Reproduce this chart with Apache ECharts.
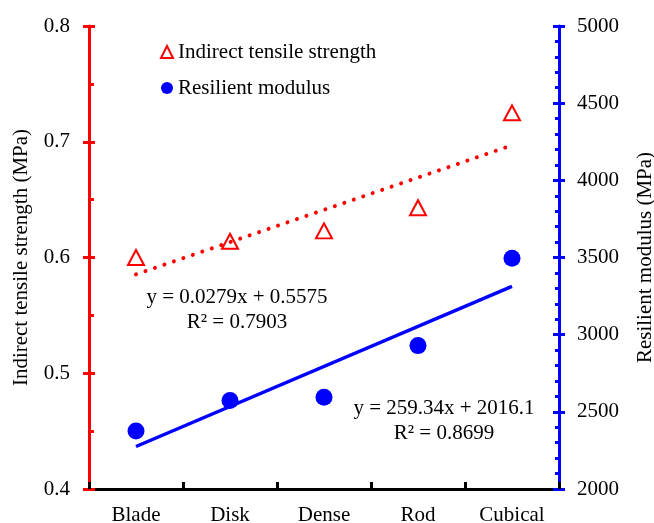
<!DOCTYPE html>
<html>
<head>
<meta charset="utf-8">
<script src="https://cdn.jsdelivr.net/npm/echarts@6/dist/echarts.min.js"></script>
<style>
  html, body { margin: 0; padding: 0; background: #fff; }
  #chart { width: 654px; height: 523px; }
</style>
</head>
<body>
<div id="chart"></div>
<script>
// Particle shape categories
var categories = ['Blade', 'Disk', 'Dense', 'Rod', 'Cubical'];
// Indirect tensile strength (MPa)
var itsValues = [0.600, 0.614, 0.623, 0.643, 0.725];
// Resilient modulus (MPa)
var rmValues = [2376, 2573, 2594, 2929, 3495];
// Linear fits: [slope, intercept, R²]
var itsFit = [0.0279, 0.5575, 0.7903];
var rmFit = [259.34, 2016.1, 0.8699];
// Axis tick ranges
var leftTicks = [0.4, 0.5, 0.6, 0.7, 0.8];
var rightTicks = [2000, 2500, 3000, 3500, 4000, 4500, 5000];

var FONT = 'Liberation Serif';
var RED = '#ff0000';
var BLUE = '#0000ff';

// Fit line endpoints at x = 1 and x = n (category indices 0 and n-1)
function fitLine(fit) {
  var n = categories.length;
  return [[0, fit[0] * 1 + fit[1]], [n - 1, fit[0] * n + fit[1]]];
}

var chart = echarts.init(document.getElementById('chart'), null, { renderer: 'canvas' });

var grid = { left: 89, right: 95, top: 26, bottom: 34, containLabel: false, outerBoundsMode: 'none' };

var baseLeft = {
  type: 'value', position: 'left',
  min: leftTicks[0], max: leftTicks[leftTicks.length - 1], interval: 0.1,
  splitLine: { show: false }
};
var baseRight = {
  type: 'value', position: 'right',
  min: rightTicks[0], max: rightTicks[rightTicks.length - 1], interval: 500,
  splitLine: { show: false }
};

var option = {
  animation: false,
  backgroundColor: '#ffffff',
  grid: grid,
  legend: {
    orient: 'vertical',
    left: 155, top: 36,
    itemWidth: 12, itemHeight: 12, itemGap: 14,
    textStyle: { fontFamily: FONT, fontSize: 21, color: '#000', lineHeight: 22 },
    data: [
      { name: 'Indirect tensile strength', icon: 'triangle',
        itemStyle: { color: 'rgba(0,0,0,0)', borderColor: RED, borderWidth: 2, opacity: 1 } },
      { name: 'Resilient modulus', icon: 'circle',
        itemStyle: { color: BLUE, borderWidth: 0, opacity: 1 } }
    ]
  },
  xAxis: {
    type: 'category', data: categories, boundaryGap: true,
    axisLine: { lineStyle: { color: '#000', width: 3 } },
    axisTick: { show: true, inside: true, length: 7, lineStyle: { color: '#000', width: 3 } },
    axisLabel: { fontFamily: FONT, fontSize: 21, color: '#000', margin: 16 },
    splitLine: { show: false }
  },
  yAxis: [
    Object.assign({}, baseLeft, {
      name: 'Indirect tensile strength (MPa)', nameLocation: 'middle', nameGap: 57,
      nameTextStyle: { fontFamily: FONT, fontSize: 21, color: '#000' },
      axisLine: { show: true, lineStyle: { color: RED, width: 3 } },
      axisTick: { show: true, inside: true, length: 6, lineStyle: { color: RED, width: 3 } },
      minorTick: { show: true, splitNumber: 2, length: 5, lineStyle: { color: RED, width: 3 } },
      axisLabel: { fontFamily: FONT, fontSize: 21, color: '#000', margin: 19,
        formatter: function (v) { return v.toFixed(1); } }
    }),
    Object.assign({}, baseRight, {
      name: 'Resilient modulus (MPa)', nameLocation: 'middle', nameGap: 76,
      nameTextStyle: { fontFamily: FONT, fontSize: 21, color: '#000' },
      axisLine: { show: true, lineStyle: { color: BLUE, width: 3 } },
      axisTick: { show: true, inside: true, length: 6, lineStyle: { color: BLUE, width: 3 } },
      minorTick: { show: true, splitNumber: 5, length: 4, lineStyle: { color: BLUE, width: 3 } },
      axisLabel: { fontFamily: FONT, fontSize: 21, color: '#000', margin: 18,
        formatter: function (v) { return String(v); } }
    }),
    // outer halves of the major ticks
    Object.assign({}, baseLeft, {
      axisLine: { show: false },
      axisTick: { show: true, inside: false, length: 6, lineStyle: { color: RED, width: 3 } },
      axisLabel: { show: false }
    }),
    Object.assign({}, baseRight, {
      axisLine: { show: false },
      axisTick: { show: true, inside: false, length: 6, lineStyle: { color: BLUE, width: 3 } },
      axisLabel: { show: false }
    })
  ],
  series: [
    {
      name: 'ITS fit', type: 'line', yAxisIndex: 0, data: fitLine(itsFit),
      symbol: 'none', silent: true, z: 2,
      lineStyle: { color: RED, width: 4, type: [0.01, 10], cap: 'round' }
    },
    {
      name: 'RM fit', type: 'line', yAxisIndex: 1, data: fitLine(rmFit),
      symbol: 'none', silent: true, z: 2,
      lineStyle: { color: BLUE, width: 3.5, type: 'solid' }
    },
    {
      name: 'Indirect tensile strength', type: 'scatter', yAxisIndex: 0, data: itsValues,
      symbol: 'triangle', symbolSize: [16, 15], z: 3,
      itemStyle: { color: 'rgba(0,0,0,0)', borderColor: RED, borderWidth: 2, opacity: 1 }
    },
    {
      name: 'Resilient modulus', type: 'scatter', yAxisIndex: 1, data: rmValues,
      symbol: 'circle', symbolSize: 17, z: 3,
      itemStyle: { color: BLUE, opacity: 1 }
    }
  ],
  graphic: [
    { type: 'text', x: 237, y: 297, style: {
        text: 'y = ' + itsFit[0] + 'x + ' + itsFit[1], font: '21px ' + FONT, fill: '#000',
        align: 'center', verticalAlign: 'middle' } },
    { type: 'text', x: 237, y: 322, style: {
        text: 'R² = ' + itsFit[2], font: '21px ' + FONT, fill: '#000',
        align: 'center', verticalAlign: 'middle' } },
    { type: 'text', x: 444, y: 408, style: {
        text: 'y = ' + rmFit[0] + 'x + ' + rmFit[1], font: '21px ' + FONT, fill: '#000',
        align: 'center', verticalAlign: 'middle' } },
    { type: 'text', x: 444, y: 433, style: {
        text: 'R² = ' + rmFit[2], font: '21px ' + FONT, fill: '#000',
        align: 'center', verticalAlign: 'middle' } }
  ]
};

chart.setOption(option);
</script>
</body>
</html>
